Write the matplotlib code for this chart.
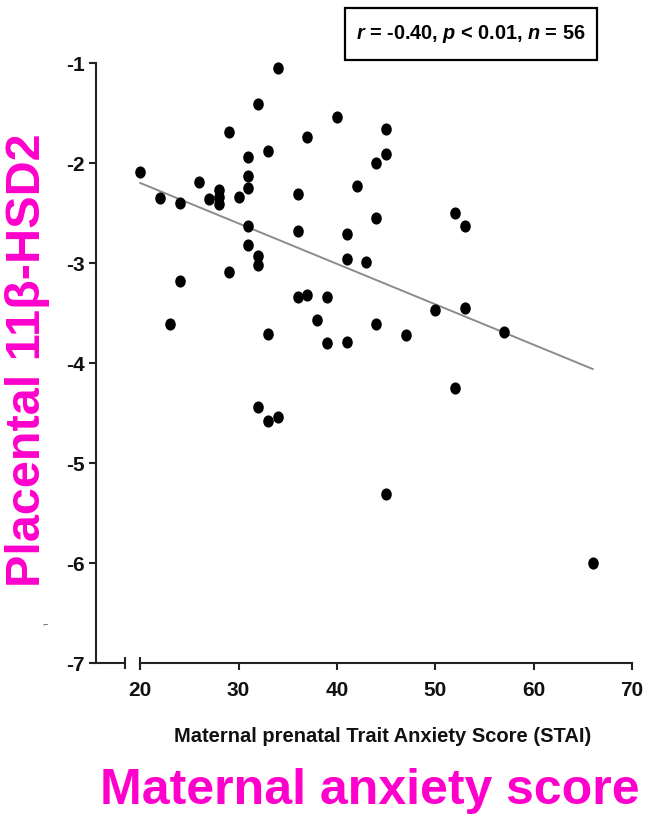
import matplotlib
matplotlib.use('Agg')
import matplotlib.pyplot as plt
from matplotlib.path import Path
from matplotlib.patches import Rectangle
from matplotlib.transforms import Affine2D

# STAI trait anxiety score vs placental 11b-HSD2
anxiety = [20, 22, 24, 26, 27, 28, 28, 28, 29, 30, 31, 31, 31, 31, 31, 32, 32, 32,
           29, 33, 34, 24, 36, 36, 37, 40, 42, 41, 41, 43, 44, 44, 36, 37, 39, 45,
           45, 52, 53, 38, 33, 39, 41, 44, 47, 50, 53, 57, 23, 32, 33, 34, 52, 45, 66]
hsd2 = [-2.09, -2.35, -2.40, -2.19, -2.36, -2.27, -2.34, -2.41, -1.69, -2.34,
        -1.94, -2.13, -2.25, -2.63, -2.82, -1.41, -2.93, -3.02, -3.09, -1.88,
        -1.05, -3.18, -2.31, -2.68, -1.74, -1.54, -2.23, -2.71, -2.96, -2.99,
        -2.00, -2.55, -3.34, -3.32, -3.34, -1.66, -1.91, -2.50, -2.63, -3.57,
        -3.71, -3.80, -3.79, -3.61, -3.72, -3.47, -3.45, -3.69, -3.61, -4.44,
        -4.58, -4.54, -4.25, -5.31, -6.00]

# regression line end points
fit_x = [20, 66]
fit_y = [-2.20, -4.06]

xticks = [20, 30, 40, 50, 60, 70]
yticks = [-7, -6, -5, -4, -3, -2, -1]
stats_text = r'$r$ = -0.40, $p$ < 0.01, $n$ = 56'

narrow = ['Liberation Sans Narrow', 'Liberation Sans', 'DejaVu Sans']
pink = '#ff00cc'

plt.rcParams['axes.unicode_minus'] = False
plt.rcParams['mathtext.fontset'] = 'custom'
plt.rcParams['mathtext.it'] = 'Liberation Sans:italic:bold'
plt.rcParams['mathtext.rm'] = 'Liberation Sans:bold'

# dots are a bit taller than wide
oval = Path.unit_circle().transformed(Affine2D().scale(0.85, 1.0))

fig = plt.figure(figsize=(6.47, 8.14), dpi=100)
ax = fig.add_axes([96 / 647, 151 / 814, 536 / 647, 600 / 814])

# scatter + fitted line
ax.scatter(anxiety, hsd2, s=60, marker=oval, color='black', zorder=3, clip_on=False)
ax.plot(fit_x, fit_y, color='#8c8c8c', lw=1.4, zorder=2)

ax.set_xlim(15.5, 70)
ax.set_ylim(-7, -1)

# axes look: only left spine, broken bottom axis drawn by hand
for s in ['top', 'right', 'bottom']:
    ax.spines[s].set_visible(False)
ax.spines['left'].set_linewidth(1.5)
ax.spines['left'].set_color('#222222')

ax.plot([15.5, 18.4], [-7, -7], color='#222222', lw=1.5, clip_on=False)
ax.plot([20, 70], [-7, -7], color='#222222', lw=1.5, clip_on=False)
ax.plot([18.4, 20], [-7, -7], ls='none', marker='|', markersize=9,
        mew=1.5, color='#222222', clip_on=False)

ax.set_xticks(xticks)
ax.set_yticks(yticks)
ax.tick_params(axis='both', direction='out', length=5, width=1.5, color='#222222')
ax.tick_params(axis='x', pad=8)
ax.tick_params(axis='y', pad=3)
for lab in ax.get_xticklabels() + ax.get_yticklabels():
    lab.set_family(narrow)
    lab.set_fontweight('bold')
    lab.set_fontsize(15)
    lab.set_color('#111111')

ax.set_xlabel('Maternal prenatal Trait Anxiety Score (STAI)', family=narrow,
              fontweight='bold', fontsize=14.5, color='#111111')
ax.xaxis.set_label_coords((383 - 96) / 536, -(737 - 663) / 600)
ax.xaxis.label.set_va('center')

# stats box top right
fig.patches.append(Rectangle((345 / 647, 1 - 60 / 814), 252 / 647, 52 / 814,
                             transform=fig.transFigure, fc='white', ec='black', lw=1.6))
fig.text(471 / 647, 1 - 34 / 814, stats_text, ha='center', va='center',
         family=narrow, fontweight='bold', fontsize=14.3)

# big pink labels
fig.text(370 / 647, 1 - 791 / 814, 'Maternal anxiety score', ha='center', va='center',
         family=['Liberation Sans', 'DejaVu Sans'], fontweight='bold',
         fontsize=36, color=pink)
fig.text(28 / 647, 1 - 360 / 814, 'Placental 11β-HSD2', ha='center', va='center',
         rotation=90, family=['Liberation Sans', 'DejaVu Sans'], fontweight='bold',
         fontsize=35, color=pink)

# little stray mark on the left
fig.text(45 / 647, 1 - 625 / 814, '⌐', fontsize=5, color='#555555',
         ha='center', va='center')

plt.savefig('out.png', dpi=100)
